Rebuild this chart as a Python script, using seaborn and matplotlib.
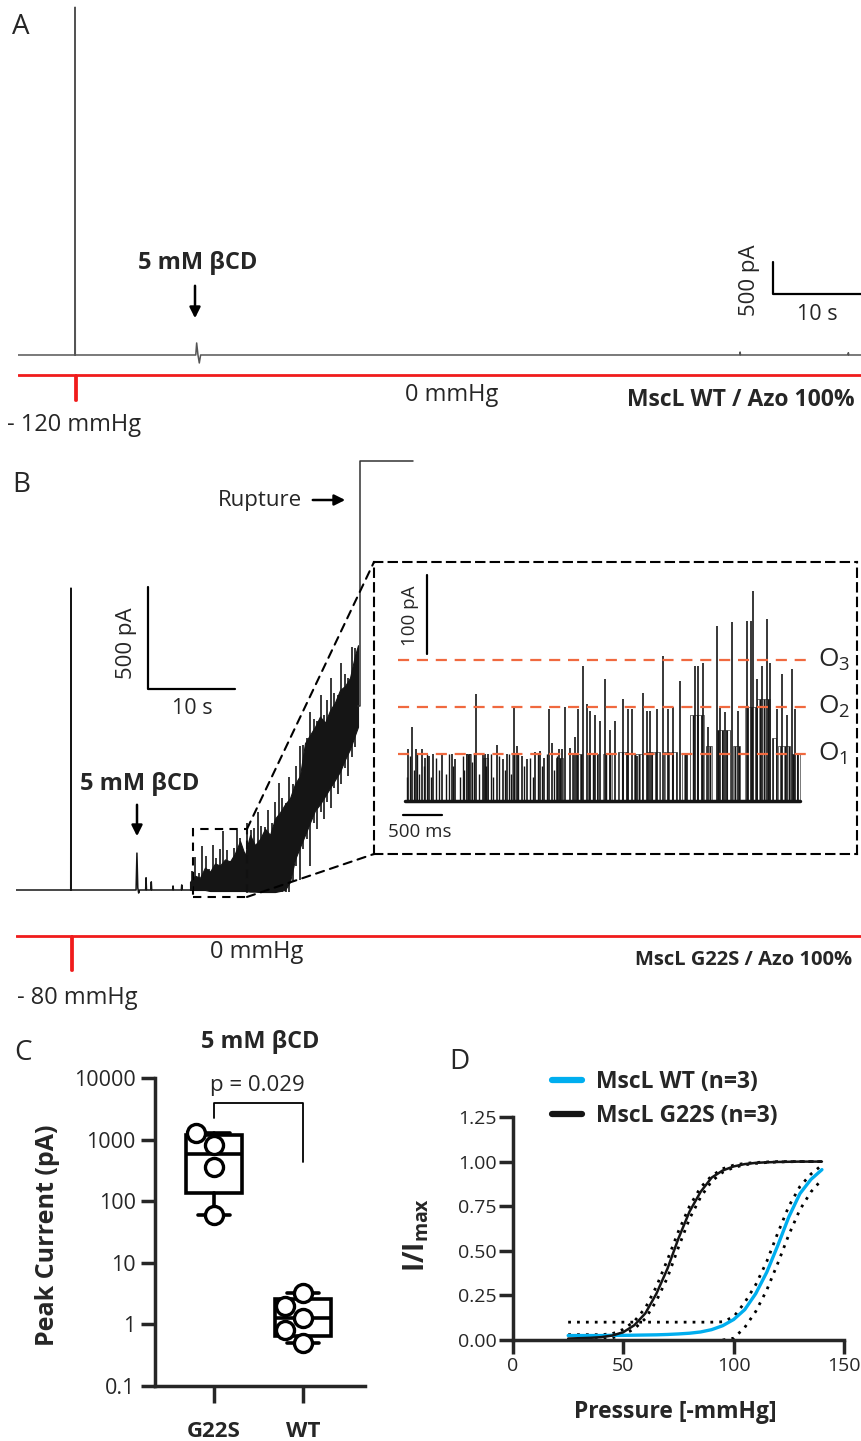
import numpy as np
import pandas as pd
import matplotlib
matplotlib.use("Agg")
import matplotlib.pyplot as plt
import seaborn as sns
from matplotlib.patches import Rectangle, ConnectionPatch, FancyArrowPatch

# ---------------- data ----------------
# A: MscL WT / Azo 100%  (time s, current pA)
a_time = [0, 6.45, 6.48, 6.51, 20.2, 20.3, 20.45, 20.6, 20.75, 82.0, 82.05, 82.1, 94.3, 94.35, 94.4, 95.9]
a_current = [0, 0, 5320, 0, 0, 184, 0, -122, 0, 0, 45, 0, 0, 35, 0, 0]
a_press_time = [0, 6.48, 6.48, 6.56, 6.56, 95.9]
a_press = [0, 0, -120, -120, 0, 0]

# B: MscL G22S / Azo 100%
b_time = [0, 6.29, 6.32, 6.35, 13.8, 13.9, 14.0, 14.1, 14.2, 14.9, 14.95, 15.0,
          15.5, 15.55, 15.6, 18.0, 18.05, 18.1, 19.0, 19.05, 19.1, 20.0]
b_current = [0, 0, 1480, 0, 0, 181, 10, -15, 0, 0, 60, 0, 0, 40, 0, 0, 20, 0, 0, 25, 0, 0]
b_noise_time = [20.00, 20.57, 21.15, 21.72, 22.30, 22.87, 23.45, 24.02, 24.60, 25.17,
                25.75, 26.32, 26.90, 27.47, 28.05, 28.62, 29.20, 29.77, 30.34, 30.92,
                31.49, 32.07, 32.64, 33.22, 33.79, 34.37, 34.94, 35.52, 36.09, 36.67,
                37.24, 37.82, 38.39, 38.97, 39.31]
b_noise_upper = [40, 70, 60, 110, 90, 130, 120, 150, 140, 180, 240, 170, 270, 220, 250,
                 300, 270, 350, 380, 420, 450, 520, 560, 720, 760, 800, 850, 820, 880, 920,
                 980, 1000, 1040, 1150, 1200]
b_noise_lower = [0, 0, 0, 0, -5, -5, -5, -5, -5, -5, -5, -5, -8, -8, -10, -10, -10, -10, -5, 0,
                 40, 150, 210, 270, 330, 390, 420, 460, 500, 540, 580, 640, 690, 760, 800]
b_spike_time = [20.2, 20.6, 21.0, 21.4, 21.8, 22.2, 22.6, 23.0, 23.4, 23.8, 24.2, 24.6,
                25.0, 25.4, 25.8, 26.2, 26.6, 27.0, 27.4, 27.8, 28.2, 28.6, 29.0, 29.4,
                29.8, 30.2, 30.6, 31.0, 31.4, 31.8, 32.2, 32.6, 33.0, 33.4, 33.8, 34.2,
                34.6, 35.0, 35.4, 35.8, 36.2, 36.6, 37.0, 37.4, 37.8, 38.2, 38.6, 39.0]
b_spike_high = [95, 160, 82, 215, 165, 103, 220, 155, 200, 290, 197, 140, 208, 294, 254, 184,
                330, 292, 306, 383, 313, 308, 390, 330, 431, 523, 450, 424, 555, 520, 609, 707,
                710, 743, 870, 838, 830, 957, 856, 930, 1038, 965, 955, 1115, 1060, 1037, 1190,
                1185]
b_spike_low = [0, 0, 0, 0, 0, 0, 0, 0, 0, 0, 0, 0,
               -8, -8, -8, -8, -8, -8, -8, -8, -8, -8, -8, -8, -8, -8, -8, -8, -8,
               40, 120, 50, 200, 250, 120, 330, 300, 380, 350, 430, 400, 500, 470, 520, 600,
               560, 650, 700]
b_rupture_time = [39.31, 39.54, 39.54, 45.6]
b_rupture_current = [900, 900, 2102, 2102]
b_press_time = [0, 6.32, 6.32, 6.40, 6.40, 97.2]
b_press = [0, 0, -80, -80, 0, 0]

# B inset: single channel openings (time ms, current pA; O1 ~ 60 pA)
inset_span_ms = [0, 5064]
inset_spike_ms = [43, 94, 137, 214, 256, 312, 363, 470, 598, 641, 799, 833, 910, 996, 1026, 1068,
                  1175, 1252, 1304, 1397, 1432, 1496, 1560, 1667, 1731, 1782, 1846, 1880, 1978,
                  2009, 2051, 2115, 2179, 2222, 2286, 2329, 2372, 2436, 2500, 2564, 2628, 2692,
                  2799, 2863, 2906, 2970, 3055, 3098, 3141, 3227, 3312, 3376, 3440, 3525, 3611,
                  3718, 3760, 3824, 3888, 3996, 4038, 4102, 4188, 4273, 4389, 4432, 4457, 4509,
                  4573, 4637, 4679, 4765, 4829, 4893, 4957, 5000]
inset_spike_pA = [66, 94, 66, 66, 55, 58, 60, 60, 60, 54, 60, 60, 136, 60, 60, 60, 72, 54, 60,
                  120, 70, 58, 54, 62, 64, 55, 117, 74, 66, 66, 120, 68, 81, 117, 172, 124, 115,
                  110, 102, 156, 90, 102, 130, 117, 117, 58, 138, 115, 115, 117, 185, 117, 120,
                  153, 59, 172, 172, 176, 94, 223, 119, 113, 228, 115, 230, 230, 268, 156, 172,
                  232, 176, 117, 162, 110, 168, 117]
inset_small_ms = [20, 70, 115, 160, 185, 240, 280, 340, 400, 430, 520, 560, 620, 700, 740, 760,
                  860, 880, 950, 1040, 1100, 1130, 1200, 1280, 1330, 1360, 1450, 1520, 1600,
                  1640, 1700, 1760, 1820, 1910, 1950]
inset_small_pA = [30, 58, 40, 60, 35, 45, 60, 30, 55, 40, 35, 60, 45, 30, 58, 40, 50, 60, 35, 45,
                  60, 30, 58, 40, 60, 35, 60, 45, 55, 30, 60, 45, 60, 40, 58]
inset_block_start = [782, 1000, 1372, 1936, 2141, 2346, 2538, 2731, 2936, 3102, 3320, 3551, 3653,
                     3859, 4000, 4205, 4359, 4512, 4705, 4782, 4962]
inset_block_end = [846, 1064, 1436, 2026, 2269, 2474, 2654, 2859, 3038, 3269, 3487, 3602, 3833,
                   3936, 4166, 4294, 4512, 4679, 4756, 4936, 5064]
inset_block_top = [60, 55, 60, 55, 60, 60, 60, 62, 60, 62, 62, 60, 110, 70, 90, 70, 120, 130, 80,
                   70, 60]
open_levels = [60, 120, 180]
open_names = ["O$_1$", "O$_2$", "O$_3$"]

# C: peak current after 5 mM bCD
c_groups = ["G22S", "WT"]
g22s_peak = [1300, 810, 355, 60]
wt_peak = [3.2, 2.0, 1.25, 0.8, 0.5]

# D: Boltzmann fits, I/Imax vs pressure
pressure = [25, 30, 35, 40, 45, 50, 55, 60, 65, 70, 75, 80, 85, 90, 95, 100, 105, 110, 115,
            120, 125, 130, 135, 140]
wt_fit = [0.025, 0.025, 0.025, 0.025, 0.026, 0.026, 0.027, 0.028, 0.029, 0.031, 0.034, 0.038,
          0.045, 0.058, 0.08, 0.115, 0.17, 0.26, 0.38, 0.53, 0.69, 0.82, 0.90, 0.955]
wt_upper = [0.10, 0.10, 0.10, 0.10, 0.10, 0.10, 0.10, 0.10, 0.10, 0.10, 0.10, 0.10, 0.10, 0.10,
            0.102, 0.13, 0.21, 0.31, 0.44, 0.60, 0.75, 0.86, 0.93, 0.98]
wt_lower_pressure = [95, 100, 105, 110, 115, 120, 125, 130, 135, 140]
wt_lower = [0.0, 0.01, 0.07, 0.16, 0.28, 0.43, 0.59, 0.73, 0.83, 0.90]
g22s_fit = [0.008, 0.01, 0.012, 0.016, 0.025, 0.044, 0.083, 0.15, 0.26, 0.40, 0.57, 0.72, 0.83,
            0.91, 0.95, 0.973, 0.986, 0.993, 0.996, 0.998, 0.999, 1.0, 1.0, 1.0]
g22s_upper = [0.03, 0.03, 0.03, 0.03, 0.035, 0.06, 0.105, 0.18, 0.30, 0.45, 0.61, 0.75, 0.855,
              0.92, 0.96, 0.98, 0.99, 0.995, 0.998, 1.0, 1.0, 1.0, 1.0, 1.0]
g22s_lower = [0.0, 0.0, 0.001, 0.004, 0.012, 0.03, 0.063, 0.12, 0.22, 0.35, 0.52, 0.68, 0.80,
              0.89, 0.94, 0.967, 0.982, 0.99, 0.995, 0.998, 0.999, 1.0, 1.0, 1.0]

# ---------------- style ----------------
sns.set_style("ticks")
plt.rcParams['font.family'] = ['Open Sans', 'DejaVu Sans']
plt.rcParams['mathtext.fontset'] = 'custom'
plt.rcParams['mathtext.rm'] = 'Open Sans'
plt.rcParams['mathtext.bf'] = 'Open Sans:bold'
plt.rcParams['mathtext.it'] = 'Open Sans:italic'
plt.rcParams['hatch.linewidth'] = 1.4

RED = '#f01c1c'
ORANGE = '#f0693f'
BLUE = '#00aeef'
INK = '#151515'
DASH = (0, (4, 3))

W, H = 862, 1441
fig = plt.figure(figsize=(W / 100, H / 100), dpi=100)


def px_axes(x0, y0, x1, y1):
    return fig.add_axes([x0 / W, 1 - y1 / H, (x1 - x0) / W, (y1 - y0) / H])


def label(x, y, s, **kw):
    kw.setdefault('ha', 'center')
    kw.setdefault('va', 'center')
    fig.text(x / W, 1 - y / H, s, **kw)


def arrow(x0, y0, x1, y1):
    fig.add_artist(FancyArrowPatch((x0 / W, 1 - y0 / H), (x1 / W, 1 - y1 / H),
                                   transform=fig.transFigure, arrowstyle='-|>',
                                   mutation_scale=16, lw=1.8, color='black'))


def trace(ax, x, y, **kw):
    sns.lineplot(x=x, y=y, estimator=None, sort=False, ax=ax, **kw)


# ---------------- panel A ----------------
axA = px_axes(18, 0, 862, 365)
trace(axA, a_time, a_current, color='#555555', lw=1.1)
axA.plot([85.8, 85.8, 95.8], [928 + 500, 928, 928], color='black', lw=1.6)
axA.set_xlim(0, 95.9)
axA.set_ylim(-153, 5430)
axA.axis('off')

axPA = px_axes(18, 365, 862, 410)
trace(axPA, a_press_time, a_press, color=RED, lw=2)
axPA.set_xlim(0, 95.9)
axPA.set_ylim(-168, 48)
axPA.axis('off')

label(12, 27, 'A', fontsize=20, ha='left')
label(198, 263, '5 mM βCD', fontsize=17, fontweight='bold')
arrow(195, 283, 195, 321)
label(750, 280, '500 pA', fontsize=16, rotation=90)
label(817, 315, '10 s', fontsize=15.5)
label(7, 425, '- 120 mmHg', fontsize=17, ha='left')
label(452, 395, '0 mmHg', fontsize=17)
label(855, 400, 'MscL WT / Azo 100%', fontsize=16.5, fontweight='bold', ha='right')

# ---------------- panel B ----------------
axB = px_axes(16, 455, 862, 900)
trace(axB, b_time, b_current, color=INK, lw=1.1)
axB.fill_between(b_noise_time, b_noise_lower, b_noise_upper, color=INK, lw=0.8)
axB.vlines(b_spike_time, b_spike_low, b_spike_high, color=INK, lw=1.2)
trace(axB, b_rupture_time, b_rupture_current, color='#333333', lw=1.1)
axB.plot([15.17, 15.17, 25.17], [985 + 500, 985, 985], color='black', lw=1.6)
axB.add_patch(Rectangle((20.35, -34), 6.2, 333, fill=False, ls=DASH, lw=1.5, color='black'))
axB.set_xlim(0, 97.24)
axB.set_ylim(-49, 2132)
axB.axis('off')

axPB = px_axes(16, 926, 862, 980)
trace(axPB, b_press_time, b_press, color=RED, lw=2)
axPB.set_xlim(0, 97.24)
axPB.set_ylim(-103.5, 23.5)
axPB.axis('off')

label(12, 485, 'B', fontsize=20, ha='left')
label(302, 500, 'Rupture', fontsize=16, ha='right')
arrow(310, 500, 348, 500)
label(140, 784, '5 mM βCD', fontsize=17, fontweight='bold')
arrow(137, 802, 137, 839)
label(127, 643, '500 pA', fontsize=16, rotation=90)
label(192, 709, '10 s', fontsize=15.5)
label(257, 952, '0 mmHg', fontsize=17)
label(17, 998, '- 80 mmHg', fontsize=17, ha='left')
label(852, 960, 'MscL G22S / Azo 100%', fontsize=14.5, fontweight='bold', ha='right')

# inset
axIn = px_axes(374, 562, 857, 854)
axIn.bar(inset_block_start, inset_block_top,
         width=np.array(inset_block_end) - np.array(inset_block_start),
         align='edge', color='none', edgecolor=INK, hatch='||||', lw=0.4)
axIn.vlines(inset_small_ms, 0, inset_small_pA, color=INK, lw=1.0)
axIn.vlines(inset_spike_ms, 0, inset_spike_pA, color=INK, lw=1.2)
axIn.plot(inset_span_ms, [0, 0], color=INK, lw=2.5)
for lvl, name in zip(open_levels, open_names):
    axIn.plot([-90, 5218], [lvl, lvl], color=ORANGE, lw=1.6, ls=(0, (5, 3.5)))
    axIn.text(5300, lvl, name, fontsize=19, ha='left', va='center')
axIn.plot([282, 282], [188, 288], color='black', lw=1.6)
axIn.text(64, 237, '100 pA', fontsize=13.5, rotation=90, ha='center', va='center')
axIn.plot([-26, 474], [-18, -18], color='black', lw=1.6)
axIn.text(192, -40, '500 ms', fontsize=13.5, ha='center', va='center')
axIn.set_xlim(-397, 5795)
axIn.set_ylim(-67.7, 305)
axIn.set_xticks([])
axIn.set_yticks([])
for sp in axIn.spines.values():
    sp.set_linestyle(DASH)
    sp.set_linewidth(1.5)
    sp.set_color('black')

for xyb in [(0, 1), (0, 0)]:
    xya = (26.55, 299) if xyb[1] == 1 else (26.55, -34)
    fig.add_artist(ConnectionPatch(xyA=xya, coordsA=axB.transData, xyB=xyb,
                                   coordsB=axIn.transAxes, ls=DASH, lw=1.5, color='black'))

# ---------------- panel C ----------------
axC = px_axes(155, 1078, 365, 1386)
axC.set_yscale('log')
df_c = pd.DataFrame({'group': ['G22S'] * len(g22s_peak) + ['WT'] * len(wt_peak),
                     'peak': g22s_peak + wt_peak})
sns.swarmplot(data=df_c, x='group', y='peak', order=c_groups, ax=axC, size=13,
              color='white', edgecolor='black', linewidth=2.4, zorder=5)
stats = []
for name, vals in zip(c_groups, [g22s_peak, wt_peak]):
    q1, med, q3 = np.percentile(vals, [25, 50, 75], method='weibull')
    stats.append(dict(label=name, med=med, q1=q1, q3=q3, whislo=min(vals), whishi=max(vals),
                      fliers=[]))
axC.bxp(stats, positions=[0, 1], widths=0.62, capwidths=0.36, showfliers=False,
        patch_artist=True, manage_ticks=False,
        boxprops=dict(facecolor='white', edgecolor='black', linewidth=2.6),
        whiskerprops=dict(color='black', linewidth=2.6),
        capprops=dict(color='black', linewidth=2.6),
        medianprops=dict(color='black', linewidth=2.6))
axC.plot([0, 0, 1, 1], [2240, 3926, 3926, 433], color='black', lw=1.3)
axC.set_xlim(-0.663, 1.697)
axC.set_ylim(0.1, 10000)
axC.set_yticks([0.1, 1, 10, 100, 1000, 10000])
axC.set_yticklabels(['0.1', '1', '10', '100', '1000', '10000'])
axC.yaxis.set_minor_locator(matplotlib.ticker.NullLocator())
axC.set_xticks([0, 1])
axC.set_xticklabels(c_groups, fontweight='bold')
axC.set_xlabel('')
axC.set_ylabel('Peak Current (pA)', fontsize=18, fontweight='bold')
axC.yaxis.set_label_coords(-0.45, 0.49)
sns.despine(ax=axC)
for sp in axC.spines.values():
    sp.set_linewidth(2.5)
axC.tick_params(axis='y', direction='out', length=10, width=2.5, labelsize=15.5, pad=4)
axC.tick_params(axis='x', direction='out', length=12, width=2.5, labelsize=16, pad=13)
label(14, 1053, 'C', fontsize=20, ha='left')
label(260, 1042, '5 mM βCD', fontsize=16.8, fontweight='bold')
label(257, 1085, 'p = 0.029', fontsize=16)

# ---------------- panel D ----------------
axD = px_axes(513, 1117, 844, 1340)
dots = (0, (1, 2.2))
sns.lineplot(x=pressure, y=wt_upper, color='black', lw=2, ls=dots, ax=axD)
sns.lineplot(x=wt_lower_pressure, y=wt_lower, color='black', lw=2, ls=dots, ax=axD)
sns.lineplot(x=pressure, y=g22s_upper, color='black', lw=2, ls=dots, ax=axD)
sns.lineplot(x=pressure, y=g22s_lower, color='black', lw=2, ls=dots, ax=axD)
sns.lineplot(x=pressure, y=wt_fit, color=BLUE, lw=2.4, ax=axD, label='MscL WT (n=3)')
sns.lineplot(x=pressure, y=g22s_fit, color=INK, lw=1.8, ax=axD, label='MscL G22S (n=3)')
leg = axD.legend(loc='upper left', bbox_to_anchor=(0.118, 1.21), frameon=False, borderpad=0,
                 borderaxespad=0, handlelength=1.3, handletextpad=0.6, labelspacing=0.45,
                 prop={'weight': 'bold', 'size': 16.5})
for ln in leg.get_lines():
    ln.set_linewidth(4.5)
axD.set_xlim(0, 150)
axD.set_ylim(0, 1.25)
axD.set_xticks([0, 50, 100, 150])
axD.set_yticks([0, 0.25, 0.5, 0.75, 1.0, 1.25])
axD.set_yticklabels(['0.00', '0.25', '0.50', '0.75', '1.00', '1.25'])
axD.set_xlabel('Pressure [-mmHg]', fontsize=16.5, fontweight='bold')
axD.xaxis.set_label_coords(0.49, -0.27)
axD.set_ylabel(r'I/I$_{\mathbf{max}}$', fontsize=20, fontweight='bold')
axD.yaxis.set_label_coords(-0.245, 0.47)
sns.despine(ax=axD)
for sp in axD.spines.values():
    sp.set_linewidth(2.5)
axD.tick_params(direction='out', length=10, width=2.5, labelsize=14, pad=2)
label(449, 1062, 'D', fontsize=20, ha='left')

fig.savefig('out.png', dpi=100)
